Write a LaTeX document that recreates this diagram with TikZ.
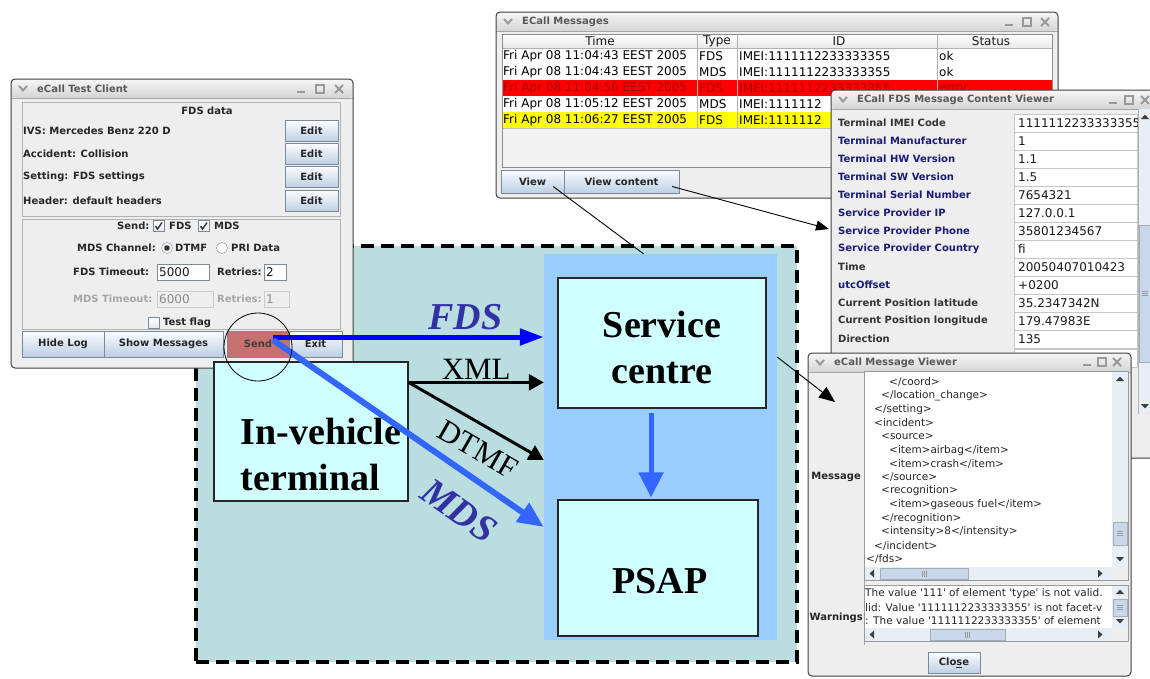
\documentclass[tikz,border=0pt]{standalone}
\usepackage{fontspec}
\setmainfont{Liberation Serif}
\newfontfamily\guifont{DejaVu Sans}
\usetikzlibrary{arrows.meta,positioning,calc}

\definecolor{sysfill}{RGB}{186,222,224}
\definecolor{netfill}{RGB}{153,204,255}
\definecolor{boxfill}{RGB}{208,255,255}
\definecolor{fdsblue}{RGB}{0,0,255}
\definecolor{mdsblue}{RGB}{51,102,255}
\definecolor{protoblue}{RGB}{50,50,165}
\definecolor{winbg}{RGB}{238,238,238}
\definecolor{titletop}{RGB}{246,246,246}
\definecolor{titlebot}{RGB}{212,212,212}
\definecolor{btntop}{RGB}{251,252,255}
\definecolor{btnbot}{RGB}{188,207,228}
\definecolor{fieldedge}{RGB}{122,138,153}
\definecolor{navy}{RGB}{28,28,118}
\definecolor{errrow}{RGB}{255,0,0}
\definecolor{errtext}{RGB}{165,0,0}
\definecolor{warnrow}{RGB}{255,255,0}
\definecolor{sendred}{RGB}{200,112,112}
\definecolor{track}{RGB}{232,238,245}
\definecolor{thumbfill}{RGB}{200,216,234}

\newcommand{\sq}{\textquotesingle}
\newcommand{\guiwin}[6]{%
  \coordinate (#1-nw) at (#2,#3);
  \coordinate (#1-se) at (#4,#5);
  \fill[winbg, rounded corners=4pt] (#1-nw) rectangle (#1-se);
  \shade[top color=titletop, bottom color=titlebot, rounded corners=4pt] (#1-nw) rectangle (#4,#3+19);
  \draw[black!35] (#2,#3+19) -- (#4,#3+19);
  \draw[black!75, line width=1pt, rounded corners=4pt] (#1-nw) rectangle (#1-se);
  \draw[black!40, line width=2pt] (#2+8,#3+7) -- (#2+12,#3+11.5) -- (#2+16,#3+7);
  \node[wintitle, anchor=west] (#1-title) at (#2+26,#3+10) {#6};}
\newcommand{\winicons}[3]{%
  \draw[black!40, line width=2.2pt] (#1-4,#2+3) -- (#1+4,#2+3);
  \draw[black!40, line width=1.3pt] (#1+#3-4,#2-4) rectangle (#1+#3+4,#2+4);
  \draw[black!40, line width=2pt] (#1+2*#3-4,#2-4) -- (#1+2*#3+4,#2+4)
    (#1+2*#3-4,#2+4) -- (#1+2*#3+4,#2-4);}
\newcommand{\guichk}[3]{%
  \draw[fieldedge, top color=white, bottom color=black!10] (#1,#2-5.5) rectangle (#1+11,#2+5.5);
  \ifnum#3=1 \draw[black!80, line width=1.4pt] (#1+2.5,#2) -- (#1+4.5,#2+3) -- (#1+9,#2-3.5);\fi}
\newcommand{\guiradio}[3]{%
  \draw[fieldedge, fill=white] (#1,#2) circle[radius=5.5];
  \ifnum#3=1 \fill[black!80] (#1,#2) circle[radius=2.8];\fi}
\newcommand{\arrup}[2]{\fill[black!75] (#1-4,#2+2) -- (#1+4,#2+2) -- (#1,#2-2.5) -- cycle;}
\newcommand{\arrdn}[2]{\fill[black!75] (#1-4,#2-2) -- (#1+4,#2-2) -- (#1,#2+2.5) -- cycle;}
\newcommand{\arrlt}[2]{\fill[black!75] (#1+2,#2-4) -- (#1+2,#2+4) -- (#1-2.5,#2) -- cycle;}
\newcommand{\arrrt}[2]{\fill[black!75] (#1-2,#2-4) -- (#1-2,#2+4) -- (#1+2.5,#2) -- cycle;}
\newcommand{\gripv}[2]{\draw[black!40] (#1-3,#2-2) -- (#1+3,#2-2) (#1-3,#2) -- (#1+3,#2) (#1-3,#2+2) -- (#1+3,#2+2);}
\newcommand{\griph}[2]{\draw[black!40] (#1-2,#2-3) -- (#1-2,#2+3) (#1,#2-3) -- (#1,#2+3) (#1+2,#2-3) -- (#1+2,#2+3);}

\begin{document}
\begin{tikzpicture}[x=1pt, y=-1pt,
  sysbox/.style={draw, dash pattern=on 13pt off 7pt, line width=3.5pt, fill=sysfill},
  netbox/.style={fill=netfill},
  entity/.style={draw=black!85, line width=1.2pt, fill=boxfill},
  bigtxt/.style={font=\bfseries\fontsize{38}{46}\selectfont, inner sep=0pt},
  chan/.style={font=\fontsize{31}{31}\selectfont, inner sep=0pt},
  proto/.style={font=\bfseries\itshape\fontsize{38}{38}\selectfont, text=protoblue, inner sep=0pt},
  fdsarrow/.style={fdsblue, line width=5pt, -{Triangle[length=24pt,width=16pt]}},
  mdsarrow/.style={mdsblue, line width=6pt, -{Triangle[length=26pt,width=22pt]}},
  downarrow/.style={mdsblue, line width=5pt, -{Triangle[length=25pt,width=24pt]}},
  xmlarrow/.style={line width=3pt, -{Triangle[length=15pt,width=16pt]}},
  wire/.style={line width=0.9pt},
  guit/.style={font=\guifont\fontsize{12}{14}\selectfont, inner sep=0pt, text=black!90},
  guis/.style={font=\guifont\fontsize{10.5}{12}\selectfont, inner sep=0pt, text=black!85},
  guib/.style={font=\guifont\bfseries\fontsize{10}{12}\selectfont, inner sep=0pt, text=black!85},
  wintitle/.style={guib, text=black!65},
  btnbase/.style={guib, draw=fieldedge, inner sep=0pt},
  btn/.style={btnbase, top color=btntop, bottom color=btnbot},
  sendbtn/.style={btnbase, fill=sendred, text=black!75},
  panel/.style={draw=black!30},
  field/.style={draw=fieldedge, fill=white},
  offfield/.style={draw=black!20, fill=winbg},
  cell/.style={draw=black!22, fill=white},
  thumb/.style={draw=fieldedge!70, fill=thumbfill},
]
\useasboundingbox (0,0) rectangle (1150,678);
\fill[white] (0,0) rectangle (1150,678);

\node[sysbox, minimum width=601pt, minimum height=416pt] (sys) at (496.5,454) {};
\node[netbox, minimum width=233pt, minimum height=386pt] (net) at (660.5,447) {};
\node[entity, minimum width=208pt, minimum height=130pt] (sc) at (662,343) {};
\node[bigtxt, align=center] (sc-t) at ($(sc)+(0,4)$) {Service\\centre};
\node[entity, minimum width=200pt, minimum height=136pt] (psap) at (658,568) {};
\node[bigtxt] (psap-t) at (660,581) {PSAP};

\guiwin{tc}{11}{79}{353}{368}{eCall Test Client}
\winicons{301}{89}{19}
\draw[panel] (22,102) rectangle (340,216);
\node[guib] (tc-head) at (207,111) {FDS data};
\foreach \ry/\lab [count=\i] in {131/IVS: Mercedes Benz 220 D, 154/Accident: Collision,
    177/Setting: FDS settings, 201/Header: default headers}{
  \node[guib, anchor=west] (tc-row\i) at (23,\ry) {\lab};
  \node[btn, minimum width=53pt, minimum height=21pt] (tc-edit\i) at (311.5,\ry) {Edit};
}
\draw[panel] (22,219) rectangle (340,329);
\node[guib, anchor=west] (tc-send) at (117,226) {Send:};
\guichk{153}{226}{1}
\node[guib, anchor=west] (tc-sfds) at (169,226) {FDS};
\guichk{198}{226}{1}
\node[guib, anchor=west] (tc-smds) at (214,226) {MDS};
\node[guib, anchor=west] (tc-chan) at (77,248) {MDS Channel:};
\guiradio{167}{248}{1}
\node[guib, anchor=west] (tc-dtmf) at (175,248) {DTMF};
\guiradio{222}{248}{0}
\node[guib, anchor=west] (tc-pri) at (231,248) {PRI Data};
\node[guib, anchor=west] (tc-fto) at (73,272) {FDS Timeout:};
\draw[field] (157,264) rectangle (209,280);
\node[guit, anchor=west] (tc-ftov) at (159,272) {5000};
\node[guib, anchor=west] (tc-fre) at (217,272) {Retries:};
\draw[field] (264,264) rectangle (286,280);
\node[guit, anchor=west] (tc-frev) at (266,272) {2};
\node[guib, text=black!35, anchor=west] (tc-mto) at (73,299) {MDS Timeout:};
\draw[offfield] (157,291) rectangle (213,307);
\node[guit, text=black!45, anchor=west] (tc-mtov) at (159,299) {6000};
\node[guib, text=black!35, anchor=west] (tc-mre) at (217,299) {Retries:};
\draw[offfield] (264,291) rectangle (289,307);
\node[guit, text=black!45, anchor=west] (tc-mrev) at (266,299) {1};
\guichk{148}{323}{0}
\node[guib, anchor=west] (tc-flag) at (163,323) {Test flag};
\node[btn, minimum width=82pt, minimum height=26pt] (tc-log) at (63,344) {Hide Log};
\node[btn, minimum width=119pt, minimum height=26pt] (tc-show) at (163.5,344) {Show Messages};
\node[sendbtn, minimum width=62pt, minimum height=26pt] (send) at (258,344) {Send};
\node[btn, minimum width=53pt, minimum height=26pt] (tc-exit) at (315.5,344) {Exit};

\node[entity, minimum width=194pt, minimum height=139pt] (ivt) at (311,431.5) {};
\node[bigtxt, align=left, anchor=north west] (ivt-t) at ($(ivt.north west)+(27,57)$) {In-vehicle\\terminal};

\guiwin{msg}{496}{12}{1058}{198}{ECall Messages}
\winicons{1009}{22}{18}
\fill[black!5] (502,34) rectangle (1052,167);
\shade[top color=white, bottom color=black!9] (502,34) rectangle (1052,48);
\foreach \hx/\hd [count=\i] in {600/Time, 717/Type, 839/ID, 991/Status}
  \node[guit] (msg-h\i) at (\hx,41) {\hd};
\foreach \tm/\ty/\id/\st/\bg/\fg [count=\i] in {
    11:04:43/FDS/1111112233333355/ok/white/black,
    11:04:43/MDS/1111112233333355/ok/white/black,
    11:04:56/FDS/1111112233333355/error/errrow/errtext,
    11:05:12/MDS/1111112//white/black,
    11:06:27/FDS/1111112//warnrow/black}{
  \pgfmathsetmacro\ry{32+16*\i}
  \fill[\bg] (502,\ry) rectangle (1052,\ry+16);
  \draw[black!25] (502,\ry+16) -- (1052,\ry+16);
  \node[guit, text=\fg, anchor=west] (msg-t\i) at (503,\ry+8) {Fri Apr 08 \tm{} EEST 2005};
  \node[guit, text=\fg, anchor=west] (msg-y\i) at (699,\ry+8) {\ty};
  \node[guit, text=\fg, anchor=west] (msg-d\i) at (739,\ry+8) {IMEI:\id};
  \node[guit, text=\fg, anchor=west] (msg-s\i) at (939,\ry+8) {\st};
}
\draw[black!30] (697,34) -- (697,128) (737,34) -- (737,128) (937,34) -- (937,128) (502,48) -- (1052,48);
\draw[black!45] (502,34) rectangle (1052,167);
\node[btn, minimum width=63pt, minimum height=23pt] (view) at (532.5,181.5) {View};
\node[btn, minimum width=115pt, minimum height=23pt] (vc) at (621.5,181.5) {View content};

\guiwin{fds}{831}{90}{1165}{458}{ECall FDS Message Content Viewer}
\winicons{1113}{100}{16}
\foreach \lab/\val/\col [count=\i] in {Terminal IMEI Code/1111112233333355/black!80,
    Terminal Manufacturer/1/navy, Terminal HW Version/1.1/navy, Terminal SW Version/1.5/navy,
    Terminal Serial Number/7654321/navy, Service Provider IP/127.0.0.1/navy,
    Service Provider Phone/35801234567/navy, Service Provider Country/fi/navy,
    Time/20050407010423/black!80, utcOffset/+0200/navy,
    Current Position latitude/35.2347342N/black!80,
    Current Position longitude/179.47983E/black!80, Direction/135/black!80}{
  \pgfmathsetmacro\ry{105+18*\i}
  \draw[cell] (1014,\ry-9) rectangle (1137,\ry+9);
  \node[guib, text=\col, anchor=west] (fds-k\i) at (838,\ry) {\lab};
  \node[guit, anchor=west] (fds-v\i) at (1018,\ry) {\val};
}
\draw[cell] (1014,349) rectangle (1137,367);
\fill[track] (1138,109) rectangle (1152,414);
\draw[black!30] (1138,109) -- (1138,414);
\arrup{1145}{117}
\draw[thumb] (1139,225) rectangle (1152,362);
\gripv{1145}{293}
\arrdn{1145}{406}

\guiwin{mv}{808}{353}{1131}{676}{eCall Message Viewer}
\winicons{1087}{362}{15}
\draw[black!35] (864,371) -- (864,645);
\fill[white] (864,371) rectangle (1112,567);
\begin{scope}
  \clip (864,371) rectangle (1112,567);
  \foreach \lx/\ln [count=\i] in {889/{</coord>}, 881/{</location\_change>}, 874/{</setting>},
      874/{<incident>}, 881/{<source>}, 889/{<item>airbag</item>}, 889/{<item>crash</item>},
      881/{</source>}, 881/{<recognition>}, 889/{<item>gaseous fuel</item>},
      881/{</recognition>}, 881/{<intensity>8</intensity>}, 874/{</incident>}, 866/{</fds>}}{
    \pgfmathsetmacro\ry{368.4+13.63*\i}
    \node[guis, anchor=west] (mv-x\i) at (\lx,\ry) {\ln};
  }
\end{scope}
\fill[track] (1112,371) rectangle (1128,567);
\arrup{1120}{379}
\draw[thumb] (1113,522) rectangle (1127,545);
\gripv{1120}{533}
\arrdn{1120}{559}
\fill[track] (864,567) rectangle (1112,580);
\arrlt{872}{573.5}
\draw[thumb] (880,568) rectangle (968,579);
\griph{924}{573.5}
\arrrt{1100}{573.5}
\draw[black!40] (864,371) rectangle (1128,580);
\node[guib, anchor=east] (mv-msg) at (861,477) {Message};

\fill[white] (864,585) rectangle (1112,628);
\begin{scope}
  \clip (864,585) rectangle (1112,628);
  \node[guis, anchor=west] (mv-w1) at (865,594) {The value \sq111\sq{} of element \sq type\sq{} is not valid.};
  \node[guis, anchor=west] (mv-w2) at (865,607.5) {lid: Value \sq1111112233333355\sq{} is not facet-v};
  \node[guis, anchor=west] (mv-w3) at (865,621) {: The value \sq1111112233333355\sq{} of element};
\end{scope}
\fill[track] (1112,585) rectangle (1128,628);
\arrup{1120}{592}
\draw[thumb] (1113,599) rectangle (1127,616);
\gripv{1120}{607.5}
\arrdn{1120}{621}
\fill[track] (864,628) rectangle (1112,641);
\arrlt{872}{634.5}
\draw[thumb] (930,629) rectangle (1005,640);
\griph{967}{634.5}
\arrrt{1100}{634.5}
\draw[black!40] (864,585) rectangle (1128,641);
\node[guib, anchor=east] (mv-warn) at (863,618) {Warnings};
\node[btn, minimum width=52pt, minimum height=21pt] (mv-close) at (954,663) {Clo\underline{s}e};

\coordinate (tx) at ($(send.center)+(15,-7)$);
\coordinate (ivtout) at ($(ivt.north east)+(0,21)$);
\draw[fdsarrow] (tx) -- (tx -| net.west) node[pos=0.71, above=5pt, proto] (fds-l) {FDS};
\draw[xmlarrow] (ivtout) -- (ivtout -| net.west) node[midway, above=1pt, chan] (xml-l) {XML};
\draw[xmlarrow] (ivtout) -- ($(net.west)+(0,13)$) node[pos=0.6, sloped, below=12pt, chan] (dtmf-l) {DTMF};
\draw[mdsarrow] ($(tx)+(0,3)$) -- ($(net.west)+(0,80)$) node[pos=0.76, sloped, below=19pt, proto] (mds-l) {MDS};
\draw[downarrow] ($(sc.south)+(-11,4)$) -- ($(psap.north)+(-7,-2)$);
\node[draw, circle, line width=0.8pt, minimum size=68pt, inner sep=0pt] (ring) at ($(send.center)+(0,3)$) {};

\draw[wire] ($(view.east)+(-11,5)$) -- ($(net.north)+(-17,0)$);
\draw[wire, -{Triangle[length=13pt,width=10pt]}] ($(vc.east)+(-7,5)$) -- ($(fds-nw)+(-2,139)$);
\draw[wire, -{Triangle[length=16pt,width=13pt]}] ($(net.east)+(0,-90)$) -- ($(mv-nw)+(27,49)$);
\end{tikzpicture}
\end{document}
